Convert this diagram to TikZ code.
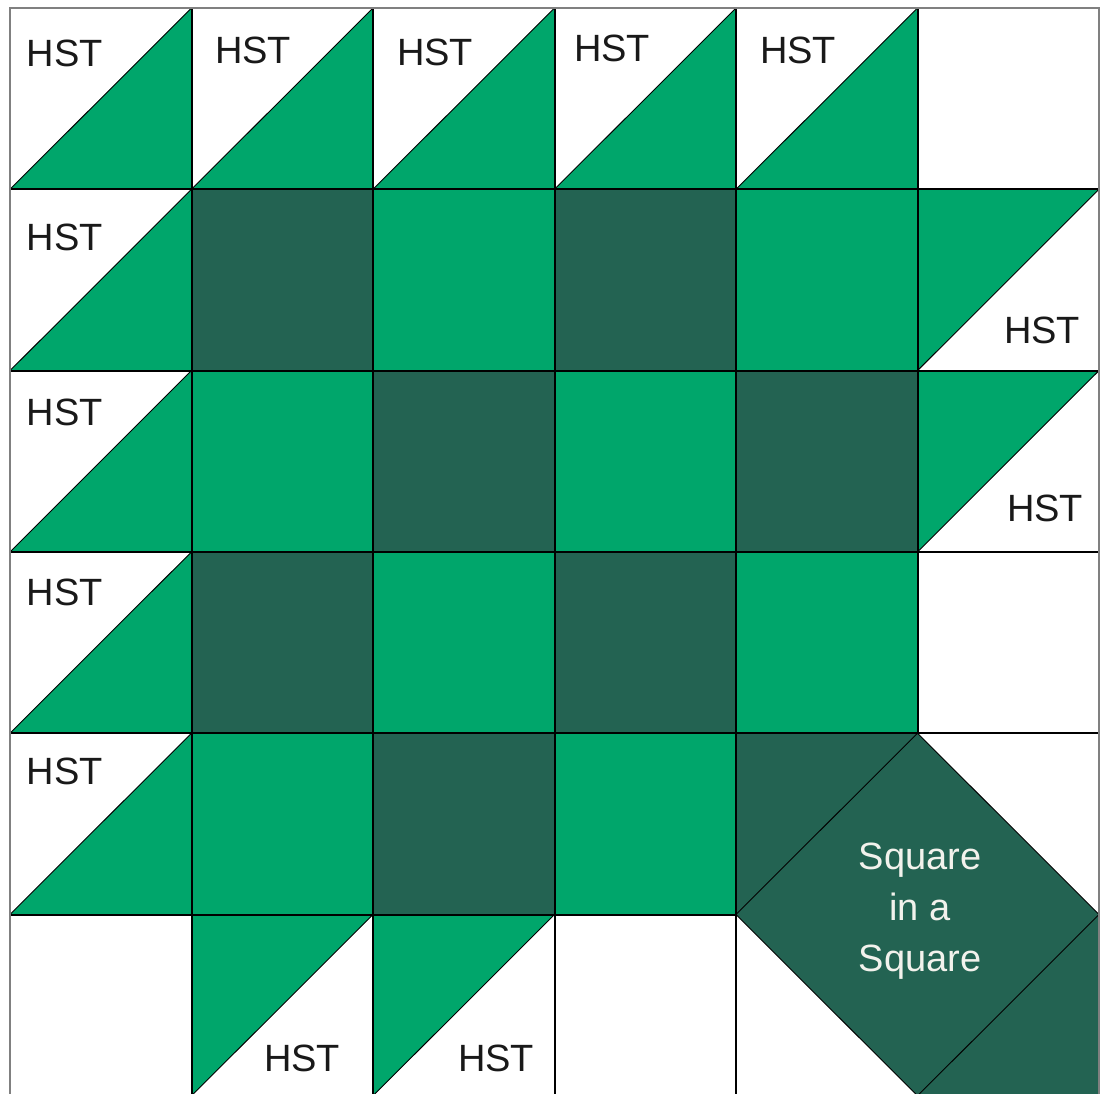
\documentclass[tikz,border=0pt]{standalone}
\usepackage{fontspec}
\setmainfont{Liberation Sans}
\definecolor{qgreen}{HTML}{00A66B}
\definecolor{qdark}{HTML}{236352}
\definecolor{qtext}{HTML}{F2F2EC}
\begin{document}
\begin{tikzpicture}[x=1pt,y=-1pt,
  cellline/.style={draw=black,line width=2pt},
  diag/.style={draw=black,line width=0.9pt},
  hst/.style={font=\fontsize{38}{40}\selectfont,text=black!90,inner sep=0pt},
  sis/.style={font=\fontsize{38}{51}\selectfont,text=qtext,align=center,inner sep=0pt},
  border/.style={draw=black!50,line width=2pt}]
\useasboundingbox (0,0) rectangle (1105,1094);
\fill[white] (0,0) rectangle (1105,1094);
% coordinates of grid points
\foreach \i in {0,...,6}{
  \foreach \j in {0,...,6}{
    \coordinate (p\i-\j) at ({10+181.5*\i},{8+181.3*\j});
  }
}
% dark / green squares
\foreach \i in {1,...,4}{
  \foreach \j in {1,...,4}{
    \pgfmathtruncatemacro{\parity}{mod(\i+\j,2)}
    \pgfmathtruncatemacro{\ni}{\i+1}
    \pgfmathtruncatemacro{\nj}{\j+1}
    \ifnum\parity=0
      \fill[qdark] (p\i-\j) rectangle (p\ni-\nj);
    \else
      \fill[qgreen] (p\i-\j) rectangle (p\ni-\nj);
    \fi
  }
}
% HST type A: green lower-right
\foreach \i/\j in {0/0,1/0,2/0,3/0,4/0,0/1,0/2,0/3,0/4}{
  \pgfmathtruncatemacro{\ni}{\i+1}
  \pgfmathtruncatemacro{\nj}{\j+1}
  \fill[qgreen] (p\i-\nj) -- (p\ni-\nj) -- (p\ni-\j) -- cycle;
  \draw[diag] (p\i-\nj) -- (p\ni-\j);
}
% HST type B: green upper-left
\foreach \i/\j in {5/1,5/2,1/5,2/5}{
  \pgfmathtruncatemacro{\ni}{\i+1}
  \pgfmathtruncatemacro{\nj}{\j+1}
  \fill[qgreen] (p\i-\j) -- (p\ni-\j) -- (p\i-\nj) -- cycle;
  \draw[diag] (p\i-\nj) -- (p\ni-\j);
}
% Square in a square (cols 4-5, rows 4-5)
\fill[white] (p4-4) rectangle (p6-6);
\fill[qdark] (p4-4) -- (p5-4) -- (p4-5) -- cycle;
\fill[qdark] (p6-5) -- (p6-6) -- (p5-6) -- cycle;
\fill[qdark] (p5-4) -- (p6-5) -- (p5-6) -- (p4-5) -- cycle;
\draw[diag] (p5-4) -- (p6-5) -- (p5-6) -- (p4-5) -- cycle;
% cell lines
\foreach \i in {0,...,5}{
  \foreach \j in {0,...,5}{
    \pgfmathtruncatemacro{\ni}{\i+1}
    \pgfmathtruncatemacro{\nj}{\j+1}
    \pgfmathtruncatemacro{\insis}{(\i>3)&&(\j>3)}
    \ifnum\insis=0
      \draw[cellline] (p\i-\j) rectangle (p\ni-\nj);
    \fi
  }
}
\draw[cellline] (p4-4) rectangle (p6-6);
\draw[border] (p0-0) rectangle (p6-6);
% labels
\node[hst] (h00) at (65,53) {HST};
\node[hst] (h10) at (253,50) {HST};
\node[hst] (h20) at (435,52) {HST};
\node[hst] (h30) at (612,48) {HST};
\node[hst] (h40) at (798,50) {HST};
\node[hst] (h01) at (65,237) {HST};
\node[hst] (h02) at (65,412) {HST};
\node[hst] (h03) at (65,592) {HST};
\node[hst] (h04) at (65,771) {HST};
\node[hst] (h51) at (1042,330) {HST};
\node[hst] (h52) at (1045,508) {HST};
\node[hst] (h15) at (302,1058) {HST};
\node[hst] (h25) at (496,1058) {HST};
\node[sis] (sis) at (920,911) {Square\\in a\\Square};
\end{tikzpicture}
\end{document}
